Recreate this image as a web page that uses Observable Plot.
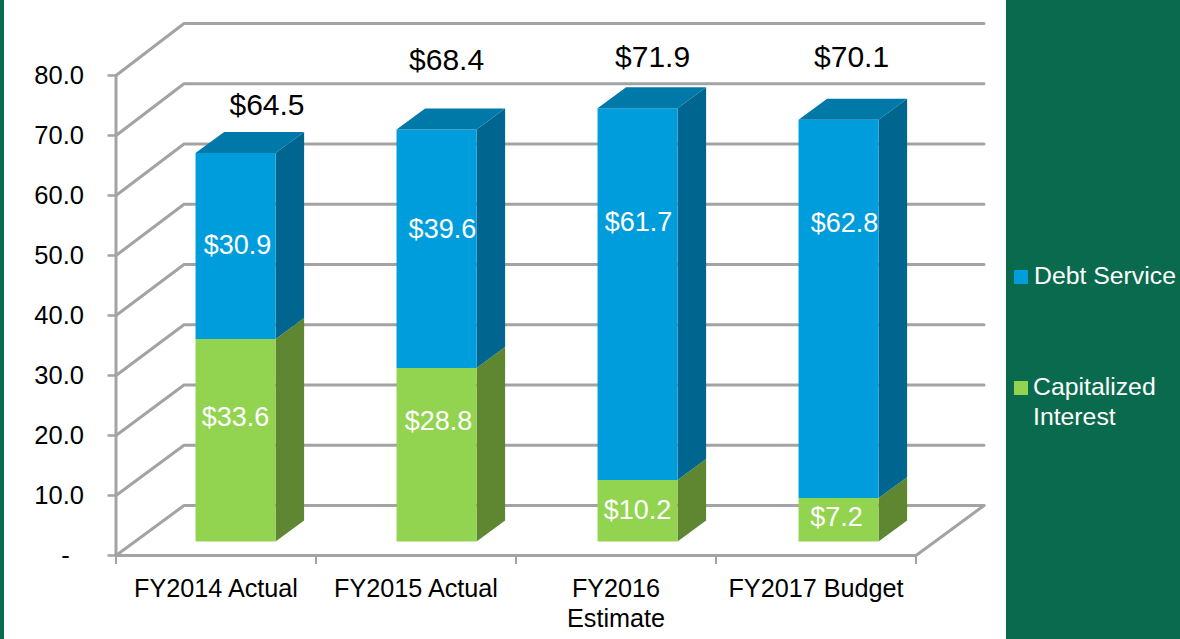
<!DOCTYPE html>
<html>
<head>
<meta charset="utf-8">
<script src="https://cdn.jsdelivr.net/npm/d3@7"></script>
<script src="https://cdn.jsdelivr.net/npm/@observablehq/plot@0.6"></script>
<style>
html,body{margin:0;padding:0;background:#0a6a4e;}
#page{position:relative;width:1180px;height:639px;overflow:hidden;background:#0a6a4e;font-family:"Liberation Sans",Arial,sans-serif;}
#panel{position:absolute;left:4px;top:0;width:1002px;height:639px;background:#fff;}
#chart{position:absolute;left:0;top:0;}
#chart svg{background:transparent;}
.lg{position:absolute;color:#fff;font-size:24.8px;line-height:30px;}
.sw{position:absolute;width:14px;height:14px;}
</style>
</head>
<body>
<div id="page">
  <div id="panel"></div>
  <div id="chart"></div>
  <div class="sw" style="left:1014px;top:270px;background:#009ddc"></div>
  <div class="lg" style="left:1034px;top:261px">Debt Service</div>
  <div class="sw" style="left:1014px;top:381px;background:#92d350"></div>
  <div class="lg" style="left:1033px;top:372px">Capitalized<br>Interest</div>
</div>
<script>
const categories = ["FY2014 Actual", "FY2015 Actual", "FY2016\nEstimate", "FY2017 Budget"];
const capitalizedInterest = [33.6, 28.8, 10.2, 7.2];
const debtService = [30.9, 39.6, 61.7, 62.8];
const totals = [64.5, 68.4, 71.9, 70.1];
const yTicks = [0, 10, 20, 30, 40, 50, 60, 70, 80];

// Oblique projection, in data units; receding planes are drawn very slightly taller
const depthX = 0.34, depthY = 8.33, recede = 1.0042, barStep = 1.005;
const barFrom = 0.3025, barTo = 0.7025, depthFrom = 0.28, depthTo = 0.7;
const P = (x, v, d) => ({x: x + d * depthX, y: v * (d > 0 ? recede : 1) + d * depthY});

// Wall and floor lines
const grid = [];
yTicks.forEach(v => {
  [[0, 0], [0, 1], [4, 1]].forEach(([x, d]) => grid.push({id: "g" + v, ...P(x, v, d)}));
});
[[0, 0], [4, 0], [4, 1]].forEach(([x, d]) => grid.push({id: "floor", ...P(x, 0, d)}));
[[0, 0], [0, 80]].forEach(([x, v]) => grid.push({id: "axis", x, y: v}));

// Bar faces
const faces = [];
function addFace(id, face, pts) { pts.forEach(p => faces.push({id, face, ...p})); }
categories.forEach((c, i) => {
  const a = i * barStep + barFrom, b = i * barStep + barTo;
  const v1 = capitalizedInterest[i], v2 = v1 + debtService[i];
  addFace("gs" + i, "greenSide", [P(b, 0, depthFrom), P(b, 0, depthTo), P(b, v1, depthTo), P(b, v1, depthFrom)]);
  addFace("gf" + i, "greenFront", [P(a, 0, depthFrom), P(b, 0, depthFrom), P(b, v1, depthFrom), P(a, v1, depthFrom)]);
  addFace("bs" + i, "blueSide", [P(b, v1, depthFrom), P(b, v1, depthTo), P(b, v2, depthTo), P(b, v2, depthFrom)]);
  addFace("bf" + i, "blueFront", [P(a, v1, depthFrom), P(b, v1, depthFrom), P(b, v2, depthFrom), P(a, v2, depthFrom)]);
  addFace("bt" + i, "blueTop", [P(a, v2, depthFrom), P(b, v2, depthFrom), P(b, v2, depthTo), P(a, v2, depthTo)]);
});

// Hand-placed label anchors, in data units, as in the original chart
const totalAnchorX = [0.755, 1.653, 2.683, 3.678];
const totalAnchorY = [75, 82.5, 83, 83];
const debtAnchorX = [0.608, 1.632, 2.613, 3.643];
const debtAnchorY = [51.7, 54.3, 55.5, 55.3];
const capAnchorX = [0.598, 1.613, 2.608, 3.603];
const capAnchorY = [23, 22.3, 7.5, 6.3];
const cols = categories.map((c, i) => i);
const money = v => "$" + v.toFixed(1);

const ink = "#000";
const fs = {fontFamily: '"Liberation Sans",Arial,sans-serif'};

const plot = Plot.plot({
  width: 1180, height: 639,
  marginLeft: 115.5, marginRight: 264.5, marginTop: 75, marginBottom: 84,
  style: {background: "transparent", ...fs, overflow: "visible"},
  x: {domain: [0, 4], axis: null},
  y: {domain: [0, 80], axis: null},
  color: {
    domain: ["greenSide", "greenFront", "blueSide", "blueFront", "blueTop"],
    range: ["#5f8631", "#92d350", "#00658f", "#009ddc", "#0079a9"]
  },
  marks: [
    Plot.line(grid, {x: "x", y: "y", z: "id", stroke: "#a3a3a3", strokeWidth: 3, strokeLinejoin: "miter"}),
    Plot.axisY({ticks: yTicks, tickSize: 8, tickPadding: 24, stroke: "#a3a3a3", strokeWidth: 2.5, color: ink, fontSize: 25.5,
      tickFormat: v => v === 0 ? "-\u00a0\u00a0" : v.toFixed(1), label: null, textStroke: "none"}),
    Plot.axisX({ticks: [0, 1, 2, 3, 4], tickSize: 9, stroke: "#a3a3a3", strokeWidth: 2, tickFormat: () => "", label: null}),
    Plot.line(faces, {x: "x", y: "y", z: "id", fill: "face", stroke: "none"}),
    Plot.text(cols, {x: i => i + 0.5, y: () => 0, text: i => categories[i], dy: 20, lineAnchor: "top", lineHeight: 1.2, fontSize: 25.2, fill: ink}),
    Plot.text(cols, {x: i => totalAnchorX[i], y: i => totalAnchorY[i], text: i => money(totals[i]), fontSize: 30, fill: ink}),
    Plot.text(cols, {x: i => debtAnchorX[i], y: i => debtAnchorY[i], text: i => money(debtService[i]), fontSize: 27, fill: "#fff"}),
    Plot.text(cols, {x: i => capAnchorX[i], y: i => capAnchorY[i], text: i => money(capitalizedInterest[i]), fontSize: 27, fill: "#fff"})
  ]
});
document.getElementById("chart").appendChild(plot);
</script>
</body>
</html>
